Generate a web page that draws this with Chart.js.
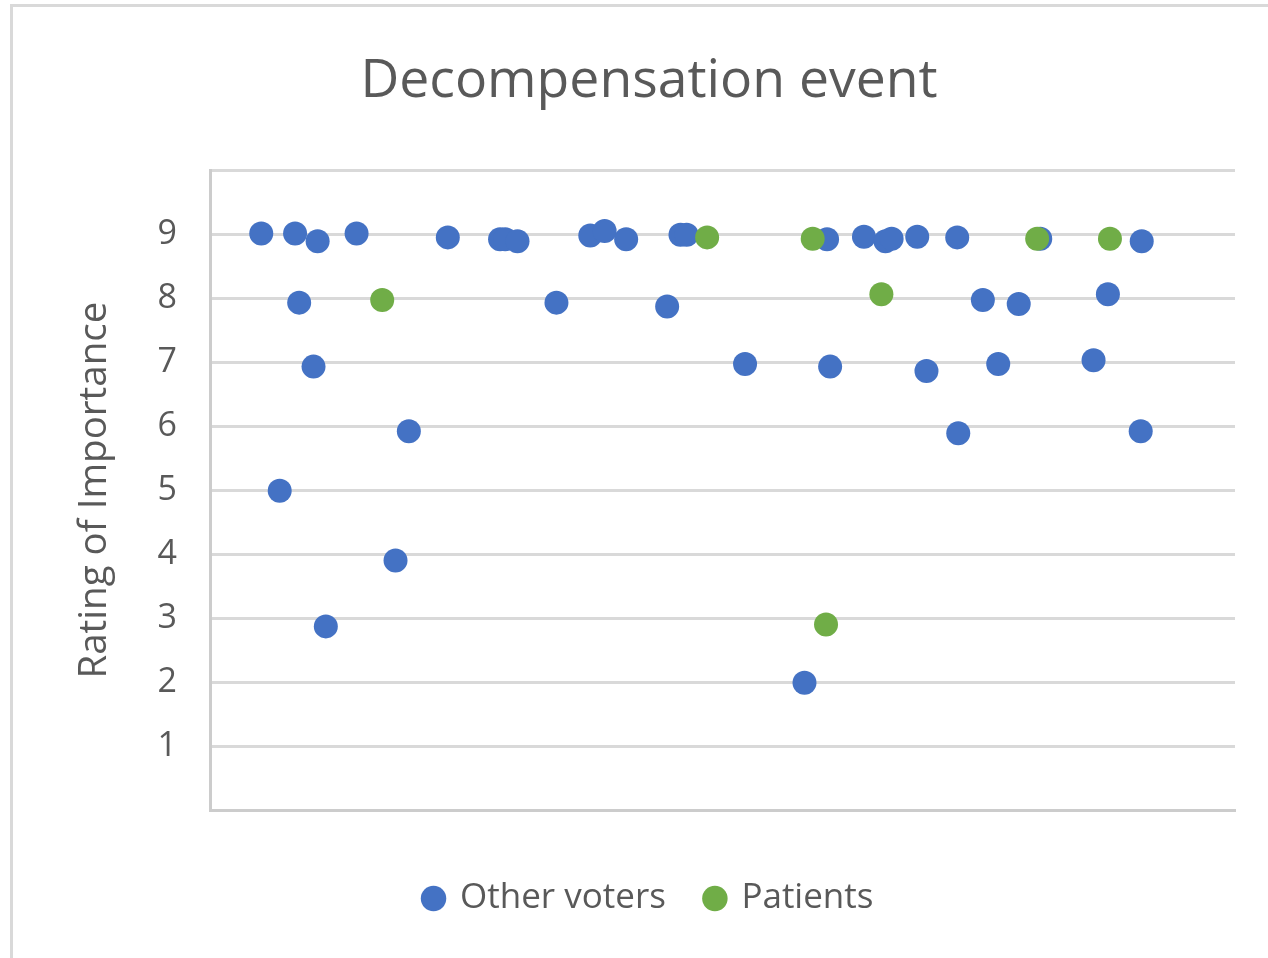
<!DOCTYPE html>
<html>
<head>
    <title>Decompensation event</title>
    <script src="https://cdn.jsdelivr.net/npm/chart.js@4.4.1/dist/chart.umd.min.js"></script>
    <style>
        body {
            margin: 0;
            width: 1268px;
            height: 958px;
            overflow: hidden;
            background: #ffffff;
            position: relative;
        }
        .frame {
            position: absolute;
            left: 10px;
            top: 4px;
            width: 1300px;
            height: 1000px;
            border-left: 3px solid #d9d9d9;
            border-top: 3px solid #d9d9d9;
        }
        #chart {
            position: absolute;
            left: 0;
            top: 0;
        }
    </style>
</head>
<body>
    <div class="frame"></div>
    <canvas id="chart" width="1268" height="958"></canvas>

    <script>
        // Voter position along the (hidden) horizontal axis, and rating given
        const otherVotersX = [5.0, 8.3, 10.5, 14.3, 23.2, 28.3, 28.8, 30.0, 37.1, 38.5, 40.6, 45.9, 46.5,
            60.2, 63.8, 65.9, 66.5, 69.0, 72.9, 81.0, 90.9,
            8.7, 33.8, 44.6, 75.4, 78.9, 87.6,
            10.1, 52.2, 60.5, 69.9, 76.9, 86.2,
            19.4, 73.0, 90.8,
            6.8, 18.1, 11.3, 58.0];
        const otherVotersY = [9.01, 9.01, 8.89, 9.01, 8.95, 8.92, 8.92, 8.89, 8.98, 9.05, 8.92, 8.99, 8.99,
            8.92, 8.96, 8.89, 8.93, 8.96, 8.95, 8.93, 8.89,
            7.93, 7.93, 7.87, 7.97, 7.91, 8.06,
            6.93, 6.97, 6.93, 6.86, 6.97, 7.03,
            5.92, 5.89, 5.92,
            4.99, 3.90, 2.87, 1.99];

        const patientsX = [16.8, 48.5, 58.8, 65.5, 60.1, 80.7, 87.8];
        const patientsY = [7.97, 8.95, 8.93, 8.06, 2.90, 8.93, 8.93];

        const yTickLabels = ['1', '2', '3', '4', '5', '6', '7', '8', '9'];

        const textGrey = '#595959';
        const fontName = "'Open Sans', sans-serif";

        function toPoints(xs, ys) {
            return xs.map((x, i) => ({ x: x, y: ys[i] }));
        }

        new Chart(document.getElementById('chart'), {
            type: 'scatter',
            data: {
                datasets: [{
                    label: 'Other voters',
                    data: toPoints(otherVotersX, otherVotersY),
                    backgroundColor: '#4472c4',
                    borderWidth: 0,
                    pointRadius: 12,
                    pointHoverRadius: 12,
                    order: 1
                },
                {
                    label: 'Patients',
                    data: toPoints(patientsX, patientsY),
                    backgroundColor: '#70ad47',
                    borderWidth: 0,
                    pointRadius: 12,
                    pointHoverRadius: 12,
                    order: 0
                }]
            },
            options: {
                responsive: false,
                animation: false,
                events: [],
                layout: {
                    padding: { top: 0, left: 63, right: 33, bottom: 32 }
                },
                plugins: {
                    title: {
                        display: true,
                        text: 'Decompensation event',
                        color: textGrey,
                        font: { family: fontName, size: 53.5, weight: 'normal' },
                        padding: { top: 50, bottom: 56 }
                    },
                    legend: {
                        position: 'bottom',
                        labels: {
                            usePointStyle: true,
                            pointStyle: 'circle',
                            boxHeight: 18,
                            boxWidth: 18,
                            padding: 40,
                            color: textGrey,
                            font: { family: fontName, size: 35 },
                            sort: (a, b) => a.datasetIndex - b.datasetIndex
                        }
                    },
                    tooltip: { enabled: false }
                },
                scales: {
                    x: {
                        type: 'linear',
                        min: 0,
                        max: 100,
                        grid: { display: false },
                        ticks: { display: false },
                        border: { display: true, color: '#cccccc', width: 3 },
                        afterFit: s => { s.height = 31; }
                    },
                    y: {
                        min: 0,
                        max: 10,
                        ticks: {
                            stepSize: 1,
                            padding: 33,
                            color: textGrey,
                            font: { family: fontName, size: 34 },
                            callback: v => yTickLabels.includes(String(v)) ? String(v) : ''
                        },
                        grid: {
                            color: '#d9d9d9',
                            lineWidth: 3,
                            drawTicks: false
                        },
                        border: { display: true, color: '#cccccc', width: 3 },
                        title: {
                            display: true,
                            text: 'Rating of Importance',
                            color: textGrey,
                            font: { family: fontName, size: 38.5 },
                            padding: { top: 9, bottom: 0 }
                        },
                        afterFit: s => { s.width = 147; }
                    }
                }
            }
        });
    </script>
</body>
</html>
